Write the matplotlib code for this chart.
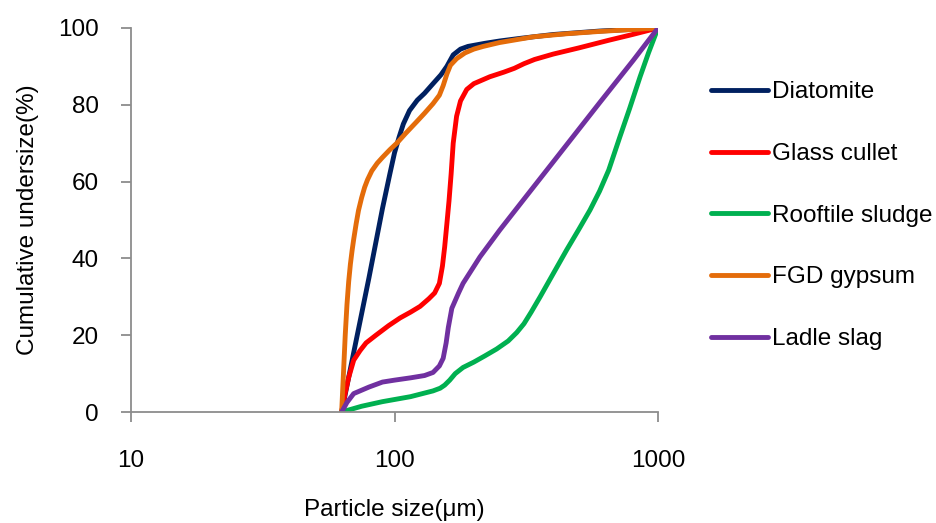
import matplotlib
matplotlib.use("Agg")
import matplotlib.pyplot as plt

plt.rcParams['font.family'] = ['Liberation Sans', 'DejaVu Sans']

# Particle size (um) and cumulative undersize (%) for each material
diatomite_x = [63, 70, 80, 90, 96, 100, 104, 108, 114, 122, 130, 140, 150, 158,
               167, 178, 190, 220, 250, 300, 400, 600, 1000]
diatomite_y = [0, 15.5, 35, 53, 62, 67.5, 71.5, 75, 78.5, 81.2, 83, 85.5, 87.8, 90,
               93, 94.5, 95.2, 96, 96.6, 97.3, 98.3, 99.2, 100]

glass_x = [63, 65, 67, 70, 74, 78, 85, 95, 105, 115, 125, 135, 142, 148, 152, 155,
           158, 161, 164, 167, 172, 178, 188, 200, 230, 260, 285, 310, 340, 400,
           500, 650, 800, 1000]
glass_y = [0, 5, 9, 13.5, 16, 18, 20, 22.5, 24.5, 26, 27.5, 29.5, 31, 33.5, 38, 43,
           49, 55, 62, 70, 77, 81, 84, 85.5, 87.3, 88.5, 89.5, 90.7, 91.8, 93.2,
           94.8, 96.8, 98.3, 100]

rooftile_x = [63, 75, 90, 115, 140, 149, 155, 162, 170, 182, 200, 220, 244, 270,
              291, 310, 330, 357, 400, 450, 500, 552, 600, 650, 717, 780, 855,
              920, 1000]
rooftile_y = [0, 1.5, 2.7, 4, 5.5, 6.2, 7, 8.3, 10, 11.6, 13, 14.6, 16.4, 18.5,
              20.7, 23, 26, 30, 36, 42.2, 47.5, 52.6, 57.5, 63, 71.7, 79, 87.3,
              93.5, 100]

fgd_x = [63, 64, 65, 66, 67, 68, 69, 70, 71.5, 73, 75, 77, 79, 82, 86, 90, 96, 102,
         110, 121, 130, 140, 148, 153, 158, 163, 172, 185, 200, 217, 250, 336, 450,
         600, 1000]
fgd_y = [0, 10, 20, 28, 34, 38.5, 42, 45, 49, 52.5, 55.8, 58.5, 60.5, 62.8, 64.8,
         66.3, 68.3, 70, 72.5, 75.5, 77.8, 80.3, 82.5, 85, 88, 90.3, 92, 93.5, 94.5,
         95.2, 96.2, 97.7, 98.5, 99.1, 100]

ladle_x = [63, 66, 70, 80, 90, 100, 115, 130, 140, 148, 153, 157, 160, 165, 175,
           182, 211, 251, 318, 401, 603, 806, 1000]
ladle_y = [0, 2.5, 4.8, 6.5, 7.8, 8.3, 8.9, 9.5, 10.3, 12, 14, 18, 22, 27, 31,
           33.5, 40.4, 47.4, 56.4, 65.2, 80.7, 91.6, 100]

series = [
    ("Diatomite", diatomite_x, diatomite_y, "#002060"),
    ("Glass cullet", glass_x, glass_y, "#FF0000"),
    ("Rooftile sludge", rooftile_x, rooftile_y, "#00B050"),
    ("FGD gypsum", fgd_x, fgd_y, "#E46C0A"),
    ("Ladle slag", ladle_x, ladle_y, "#7030A0"),
]

x_ticks = [10, 100, 1000]
y_ticks = [0, 20, 40, 60, 80, 100]

fig = plt.figure(figsize=(9.36, 5.23), dpi=100)
ax = fig.add_axes([0.140, 0.2122, 0.563, 0.7343])

for name, xs, ys, col in series:
    ax.plot(xs, ys, color=col, lw=3.5, label=name,
            solid_capstyle='round', solid_joinstyle='round')

ax.set_xscale('log')
ax.set_xlim(10, 1000)
ax.set_ylim(0, 100)
ax.set_xticks(x_ticks)
ax.set_xticklabels([str(v) for v in x_ticks])
ax.xaxis.set_minor_locator(matplotlib.ticker.NullLocator())
ax.set_yticks(y_ticks)

axis_grey = "#8C8C8C"
for side in ('top', 'right'):
    ax.spines[side].set_visible(False)
for side in ('left', 'bottom'):
    ax.spines[side].set_color(axis_grey)
    ax.spines[side].set_linewidth(1.3)

ax.tick_params(axis='both', which='major', direction='out', length=7,
               width=1.3, color=axis_grey, labelsize=17.5, pad=16,
               labelcolor='#000000')
ax.tick_params(axis='x', pad=20)

ax.set_xlabel("Particle size(μm)", fontsize=17.5, labelpad=19.5)
ax.set_ylabel("Cumulative undersize(%)", fontsize=17.5, labelpad=14)

leg = ax.legend(loc='upper left', bbox_to_anchor=(1.082, 0.886),
                frameon=False, fontsize=17.5, handlelength=2.33,
                handletextpad=0.17, labelspacing=1.63, borderaxespad=0)
for h in leg.get_lines():
    h.set_linewidth(3.5)
    h.set_solid_capstyle('round')

fig.savefig("out.png", dpi=100)
